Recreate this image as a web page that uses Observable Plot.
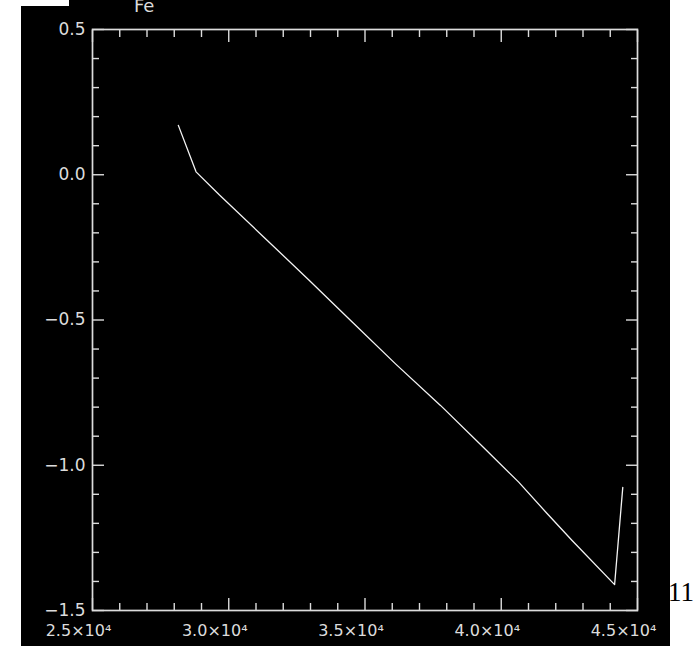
<!DOCTYPE html>
<html>
<head>
<meta charset="utf-8">
<script src="https://cdn.jsdelivr.net/npm/d3@7"></script>
<script src="https://cdn.jsdelivr.net/npm/@observablehq/plot@0.6"></script>
<style>
  html, body { margin: 0; padding: 0; background: #ffffff; }
  #wrap { position: relative; width: 695px; height: 646px; overflow: hidden; background: #ffffff; }
  #chart { position: absolute; left: 21px; top: 0px; width: 649px; height: 646px; overflow: hidden; background: #000; }
  #title { position: absolute; left: 134px; top: -3px; font: 18px "DejaVu Sans", sans-serif; color: #dcdcdc; line-height: 18px; white-space: nowrap; }
  #corner { position: absolute; left: 0; top: 0; width: 69px; height: 6px; background: #ffffff; }
  #note { position: absolute; left: 668px; top: 579px; font: 27px "Liberation Serif", "DejaVu Serif", serif; color: #000; line-height: 27px; white-space: nowrap; }
</style>
</head>
<body>
<div id="wrap">
  <div id="chart"></div>
  <div id="title">Fe</div>
  <div id="corner"></div>
  <div id="note">11</div>
</div>
<script>
// ---- data ----
const xValues = [28150, 28800, 29660, 31290, 32940, 34530, 36120, 37770, 39360, 40640, 41690, 42600, 44160, 44460];
const yValues = [0.17, 0.01, -0.07, -0.215, -0.362, -0.507, -0.651, -0.794, -0.94, -1.058, -1.167, -1.259, -1.411, -1.076];

const xDomain = [25000, 45000];
const yDomain = [-1.5, 0.5];
const xMajor = [25000, 30000, 35000, 40000, 45000];
const xMinor = [26000, 27000, 28000, 29000, 31000, 32000, 33000, 34000, 36000, 37000, 38000, 39000, 41000, 42000, 43000, 44000];
const yMajor = [-1.5, -1.0, -0.5, 0.0, 0.5];
const yMinor = [-1.4, -1.3, -1.2, -1.1, -0.9, -0.8, -0.7, -0.6, -0.4, -0.3, -0.2, -0.1, 0.1, 0.2, 0.3, 0.4];
const xTickLabels = ["2.5×10⁴", "3.0×10⁴", "3.5×10⁴", "4.0×10⁴", "4.5×10⁴"];
const yTickLabels = ["−1.5", "−1.0", "−0.5", "0.0", "0.5"];

const points = xValues.map((x, i) => ({x, y: yValues[i]}));
const fg = "#dcdcdc";
const blank = () => "";

const tickOpts = (size) => ({tickFormat: blank, tickSize: size, stroke: fg, strokeWidth: 1.4, label: null});

const chart = Plot.plot({
  width: 649,
  height: 646,
  marginLeft: 71,
  marginRight: 33,
  marginTop: 29,
  marginBottom: 36,
  style: {background: "#000", overflow: "hidden", color: fg},
  x: {domain: xDomain, axis: null},
  y: {domain: yDomain, axis: null},
  marks: [
    Plot.axisX(xMinor, {anchor: "bottom", ...tickOpts(-7)}),
    Plot.axisX(xMajor, {anchor: "bottom", ...tickOpts(-12)}),
    Plot.axisX(xMinor, {anchor: "top", ...tickOpts(-7)}),
    Plot.axisX(xMajor, {anchor: "top", ...tickOpts(-12)}),
    Plot.axisY(yMinor, {anchor: "left", ...tickOpts(-7)}),
    Plot.axisY(yMajor, {anchor: "left", ...tickOpts(-12)}),
    Plot.axisY(yMinor, {anchor: "right", ...tickOpts(-7)}),
    Plot.axisY(yMajor, {anchor: "right", ...tickOpts(-12)}),
    Plot.frame({stroke: fg, strokeWidth: 1.7}),
    Plot.text(xMajor, {x: d => d, frameAnchor: "bottom", text: (d, i) => xTickLabels[i], dy: 25, dx: -14, fill: fg, fontSize: 16, fontFamily: "DejaVu Sans"}),
    Plot.text(yMajor, {y: d => d, frameAnchor: "left", text: (d, i) => yTickLabels[i], textAnchor: "end", dx: -7, dy: 0, fill: fg, fontSize: 17, fontFamily: "DejaVu Sans"}),
    Plot.line(points, {x: "x", y: "y", stroke: "#f4f4f4", strokeWidth: 1.3})
  ]
});
document.getElementById("chart").appendChild(chart);
</script>
</body>
</html>
